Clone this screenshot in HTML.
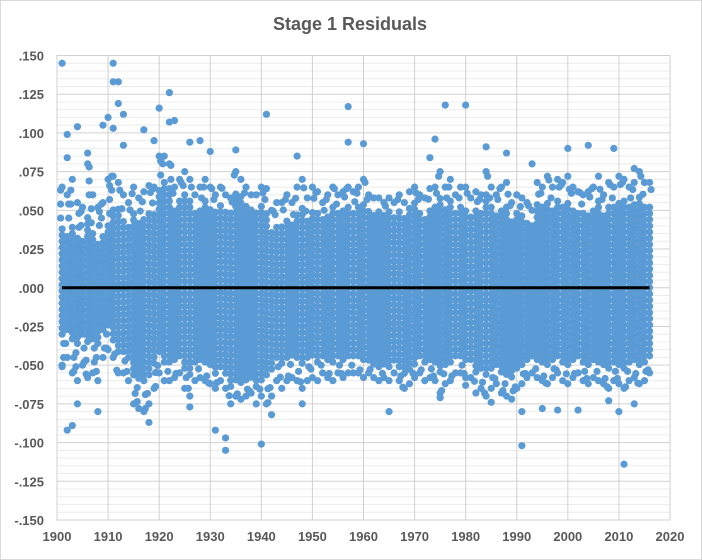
<!DOCTYPE html>
<html><head><meta charset="utf-8"><style>
html,body{margin:0;padding:0;background:#fff;}
svg{display:block;font-family:"Liberation Sans",sans-serif;}
</style></head><body>
<svg id="chart" width="702" height="560">
<rect x="0.5" y="0.5" width="701" height="559" fill="#fff" stroke="#d9d9d9"/>
<text x="350" y="30" text-anchor="middle" font-size="18" font-weight="bold" fill="#595959">Stage 1 Residuals</text>
<g id="grid"></g><g id="marks"></g><g id="axes"></g>
</svg>
<script>
const yTicks=[0.150,0.125,0.100,0.075,0.050,0.025,0,-0.025,-0.050,-0.075,-0.100,-0.125,-0.150];
const yTickLabels=[".150",".125",".100",".075",".050",".025",".000","-.025","-.050","-.075","-.100","-.125","-.150"];
const xTicks=[1900,1910,1920,1930,1940,1950,1960,1970,1980,1990,2000,2010,2020];
const startYear=1901;
const bandHi=[.065,.060,.070,.055,.052,.080,.060,.052,.055,.070,
.072,.068,.060,.055,.065,.058,.062,.066,.065,.085,
.085,.080,.065,.070,.075,.070,.060,.065,.070,.065,
.060,.065,.060,.058,.075,.070,.065,.060,.060,.065,
.064,.050,.055,.055,.060,.055,.065,.070,.058,.065,
.062,.055,.060,.065,.060,.062,.065,.062,.065,.070,
.060,.058,.058,.055,.058,.055,.060,.055,.062,.065,
.060,.058,.064,.065,.075,.065,.070,.060,.065,.065,
.058,.062,.060,.075,.065,.060,.065,.068,.055,.060,
.058,.055,.050,.068,.065,.072,.065,.070,.068,.072,
.065,.062,.060,.062,.065,.072,.060,.068,.065,.072,
.070,.065,.068,.075,.068,.068];
const bandLo=[-.050,-.045,-.055,-.060,-.050,-.058,-.055,-.060,-.045,-.040,
-.045,-.055,-.055,-.060,-.075,-.078,-.080,-.075,-.065,-.055,
-.060,-.060,-.058,-.055,-.065,-.070,-.060,-.058,-.060,-.062,
-.065,-.060,-.065,-.075,-.070,-.072,-.070,-.068,-.075,-.070,
-.075,-.070,-.060,-.065,-.060,-.058,-.060,-.065,-.060,-.058,
-.060,-.055,-.058,-.060,-.055,-.058,-.055,-.055,-.055,-.058,
-.055,-.058,-.060,-.058,-.060,-.055,-.060,-.065,-.062,-.058,
-.055,-.060,-.058,-.060,-.068,-.062,-.060,-.055,-.055,-.058,
-.058,-.068,-.065,-.070,-.065,-.062,-.068,-.070,-.072,-.065,
-.062,-.058,-.055,-.058,-.060,-.062,-.058,-.055,-.060,-.062,
-.058,-.055,-.060,-.062,-.058,-.060,-.062,-.065,-.060,-.062,
-.065,-.060,-.058,-.062,-.060,-.055];
const outYears=[1901,1902,1904,1902,1906,1909,1910,1911,1911,1912,1912,1913,1911,1913,1917,1919,1920,1922,1922,1923,1926,1928,1930,1935,1941,1947,1957,1957,1960,1973,1974,1976,1980,1984,1988,1993,2000,2004,2009,2013,2015,
1901,1902,1903,1904,1908,1918,1926,1931,1933,1933,1940,1942,1948,1965,1975,1980,1985,1991,1991,1995,1998,2002,2008,2010,2011,2013];
const outValues=[.145,.099,.104,.084,.087,.105,.110,.145,.133,.133,.119,.112,.103,.092,.102,.095,.116,.126,.107,.108,.094,.095,.088,.089,.112,.085,.117,.094,.093,.084,.096,.118,.118,.091,.087,.080,.090,.092,.090,.077,.068,
-.051,-.092,-.089,-.075,-.080,-.087,-.077,-.092,-.097,-.105,-.101,-.082,-.075,-.080,-.071,-.063,-.074,-.102,-.080,-.078,-.079,-.079,-.073,-.080,-.114,-.075];
const coreFrac=[.60,.75,.80,.85,.75,.80,.85,.80,.80,.80,.80,.80];
const fitStart=1901, fitEnd=2016, fitValue=0;

const NS="http://www.w3.org/2000/svg";
const X0=57,X1=670,Y0=55.5,Y1=520;
const xs=v=>X0+(v-1900)/(2020-1900)*(X1-X0);
const ys=v=>Y0+(0.150-v)/0.300*(Y1-Y0);
function mk(tag,attrs,parent){const e=document.createElementNS(NS,tag);for(const k in attrs)e.setAttribute(k,attrs[k]);parent.appendChild(e);return e;}
const grid=document.getElementById('grid'),marks=document.getElementById('marks'),axes=document.getElementById('axes');
for(let i=0;i<=60;i++){const v=0.150-i*0.005;if(i%5===0)continue;
const l=mk('line',{x1:X0,x2:X1,y1:ys(v),y2:ys(v),stroke:'#ececec','stroke-width':1},grid);

}
yTicks.forEach((v,i)=>{const l=mk('line',{x1:X0,x2:X1,y1:ys(v),y2:ys(v),stroke:'#d0d0d0','stroke-width':1},grid);


const t=mk('text',{x:X0-13,y:ys(v)+5,'text-anchor':'end','font-size':13,'font-weight':'bold',fill:'#595959'},axes);
t.textContent=yTickLabels[i];

});
xTicks.forEach(v=>{const l=mk('line',{x1:xs(v),x2:xs(v),y1:Y0,y2:Y1,stroke:'#d0d0d0','stroke-width':1},grid);


const t=mk('text',{x:xs(v),y:541,'text-anchor':'middle','font-size':13,'font-weight':'bold',fill:'#595959'},axes);
t.textContent=v;

});
const fr=mk('rect',{x:X0,y:Y0,width:X1-X0,height:Y1-Y0,fill:'none',stroke:'#d0d0d0'},grid);


const col='#5b9bd5';
bandHi.forEach((hi,i)=>{const yr=startYear+i,lo=bandLo[i];
const f=coreFrac[Math.floor(i/10)];
const g=mk('g',{fill:col},marks);


const cLo=lo*f,cHi=hi*f;
for(let v=cLo;v<=cHi+1e-9;v+=0.004){mk('circle',{cx:xs(yr),cy:ys(v),r:3.6},g);}
const off=(i%3)*0.003;
for(let v=cHi+0.006+off;v<hi;v+=0.009){mk('circle',{cx:xs(yr)+((i%2)?1.5:-1.5),cy:ys(v),r:3.6},g);}
for(let v=cLo-0.006-off;v>lo;v-=0.009){mk('circle',{cx:xs(yr)+((i%2)?-1.5:1.5),cy:ys(v),r:3.6},g);}
mk('circle',{cx:xs(yr),cy:ys(hi),r:3.6},g);
mk('circle',{cx:xs(yr),cy:ys(lo),r:3.6},g);});
outYears.forEach((yr,i)=>{const c=mk('circle',{cx:xs(yr),cy:ys(outValues[i]),r:3.6,fill:col},marks);

});
const zl=mk('line',{x1:xs(fitStart),x2:xs(fitEnd),y1:ys(fitValue),y2:ys(fitValue),stroke:'#000','stroke-width':3},marks);


</script>
</body></html>
